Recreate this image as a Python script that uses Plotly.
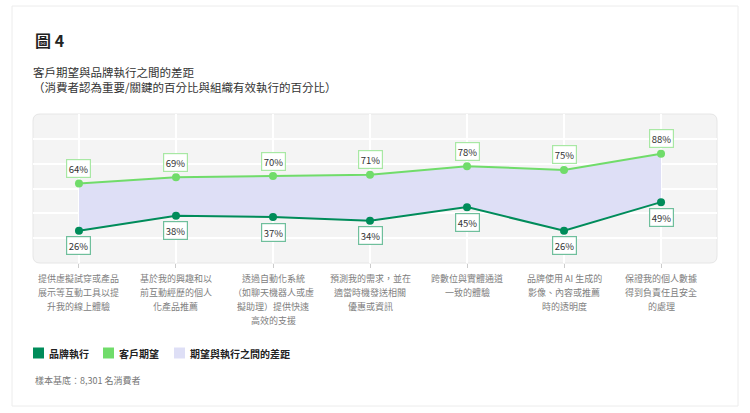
import plotly.graph_objects as go

categories = [
    "提供虛擬試穿或產品<br>展示等互動工具以提<br>升我的線上體驗",
    "基於我的興趣和以<br>前互動經歷的個人<br>化產品推薦",
    "透過自動化系統<br>（如聊天機器人或虛<br>擬助理）提供快速<br>高效的支援",
    "預測我的需求，並在<br>適當時機發送相關<br>優惠或資訊",
    "跨數位與實體通道<br>一致的體驗",
    "品牌使用 AI 生成的<br>影像、內容或推薦<br>時的透明度",
    "保證我的個人數據<br>得到負責任且安全<br>的處理",
]
brand_execution = [26, 38, 37, 34, 45, 26, 49]
customer_expectation = [64, 69, 70, 71, 78, 75, 88]

DARK = "#008c5a"
LIGHT = "#70dc6a"
GAP = "#dedff6"
FONT = "Noto Sans CJK TC"

W, H = 750, 413
L, R, T, B = 33, 717, 114, 263


def px(x):
    return (x - L) / (R - L)


def py(y):
    return (B - y) / (B - T)


fig = go.Figure()

fig.add_trace(go.Scatter(
    x=categories, y=brand_execution, mode="lines+markers",
    line=dict(color=DARK, width=2), marker=dict(color=DARK, size=8),
    name="品牌執行", showlegend=False, hoverinfo="skip",
))
fig.add_trace(go.Scatter(
    x=categories, y=customer_expectation, mode="lines+markers",
    line=dict(color=LIGHT, width=2), marker=dict(color=LIGHT, size=8),
    fill="tonexty", fillcolor=GAP,
    name="客戶期望", showlegend=False, hoverinfo="skip",
))

annotations = []
for c, v in zip(categories, customer_expectation):
    annotations.append(dict(
        x=c, y=v, text=f"{v}%", showarrow=False, yshift=15,
        font=dict(family=FONT, size=9.5, color="#333"),
        bgcolor="white", bordercolor="#a8e8a4", borderwidth=1.2, borderpad=1.5,
    ))
for c, v in zip(categories, brand_execution):
    annotations.append(dict(
        x=c, y=v, text=f"{v}%", showarrow=False, yshift=-15,
        font=dict(family=FONT, size=9.5, color="#333"),
        bgcolor="white", bordercolor="#6fbf9c", borderwidth=1.2, borderpad=1.5,
    ))

# category labels, one annotation per line so the line spacing matches
for c in categories:
    for i, line in enumerate(c.split("<br>")):
        annotations.append(dict(
            x=c, xref="x", yref="paper", y=py(278 + 14 * i), yanchor="middle",
            text=line, showarrow=False,
            font=dict(family=FONT, size=9, color="#808080"),
        ))

# title block
annotations.append(dict(
    xref="paper", yref="paper", x=px(33), y=py(40), xanchor="left", yanchor="middle",
    text="<b>圖 4</b>", showarrow=False, font=dict(family=FONT, size=16, color="#222"),
))
annotations.append(dict(
    xref="paper", yref="paper", x=px(31), y=py(72), xanchor="left", yanchor="middle",
    text="客戶期望與品牌執行之間的差距", showarrow=False,
    font=dict(family=FONT, size=11.5, color="#333"),
))
annotations.append(dict(
    xref="paper", yref="paper", x=px(31), y=py(87), xanchor="left", yanchor="middle",
    text="（消費者認為重要/關鍵的百分比與組織有效執行的百分比）", showarrow=False,
    font=dict(family=FONT, size=11.5, color="#333"),
))
annotations.append(dict(
    xref="paper", yref="paper", x=px(33), y=py(380), xanchor="left", yanchor="middle",
    text="樣本基底：8,301 名消費者", showarrow=False,
    font=dict(family=FONT, size=9, color="#777"),
))

shapes = [
    # card
    dict(type="rect", xref="paper", yref="paper", x0=px(12), x1=px(738), y0=py(406), y1=py(6),
         line=dict(color="#ececec", width=1), fillcolor="white", layer="below"),
]
# rounded plot background
r = 7
x0, x1, y0, y1 = 0, 1, 0, 1
dx, dy = r / (R - L), r / (B - T)
path = (f"M {x0+dx},{y0} L {x1-dx},{y0} Q {x1},{y0} {x1},{y0+dy} "
        f"L {x1},{y1-dy} Q {x1},{y1} {x1-dx},{y1} L {x0+dx},{y1} "
        f"Q {x0},{y1} {x0},{y1-dy} L {x0},{y0+dy} Q {x0},{y0} {x0+dx},{y0} Z")
shapes.append(dict(type="path", xref="paper", yref="paper", path=path,
                   fillcolor="#f4f4f4", line=dict(color="#e6e6e6", width=1), layer="below"))

# legend
legend_items = [("品牌執行", DARK, 33), ("客戶期望", LIGHT, 103), ("期望與執行之間的差距", GAP, 174)]
for label, color, lx in legend_items:
    shapes.append(dict(type="rect", xref="paper", yref="paper",
                       x0=px(lx), x1=px(lx + 11), y0=py(358.5), y1=py(347.5),
                       fillcolor=color, line=dict(width=0)))
    annotations.append(dict(
        xref="paper", yref="paper", x=px(lx + 14), y=py(353), xanchor="left", yanchor="middle",
        text=f"<b>{label}</b>", showarrow=False, font=dict(family=FONT, size=10, color="#222"),
    ))

fig.update_layout(
    width=W, height=H,
    margin=dict(l=L, r=W - R, t=T, b=H - B),
    paper_bgcolor="white", plot_bgcolor="rgba(0,0,0,0)",
    font=dict(family=FONT),
    annotations=annotations, shapes=shapes,
    showlegend=False,
    xaxis=dict(
        range=[-0.474, 6.577], showgrid=True, gridcolor="white", gridwidth=1.5,
        ticks="outside", ticklen=4, tickcolor="#cccccc", showline=False, zeroline=False,
        showticklabels=False,
    ),
    yaxis=dict(
        range=[0, 120], dtick=20, showgrid=True, gridcolor="white", gridwidth=1.5,
        showticklabels=False, zeroline=False, showline=False,
    ),
)

fig.write_html("out.html", config={"displayModeBar": False},
               post_script="document.body.style.margin='0';document.body.style.overflow='hidden';")
